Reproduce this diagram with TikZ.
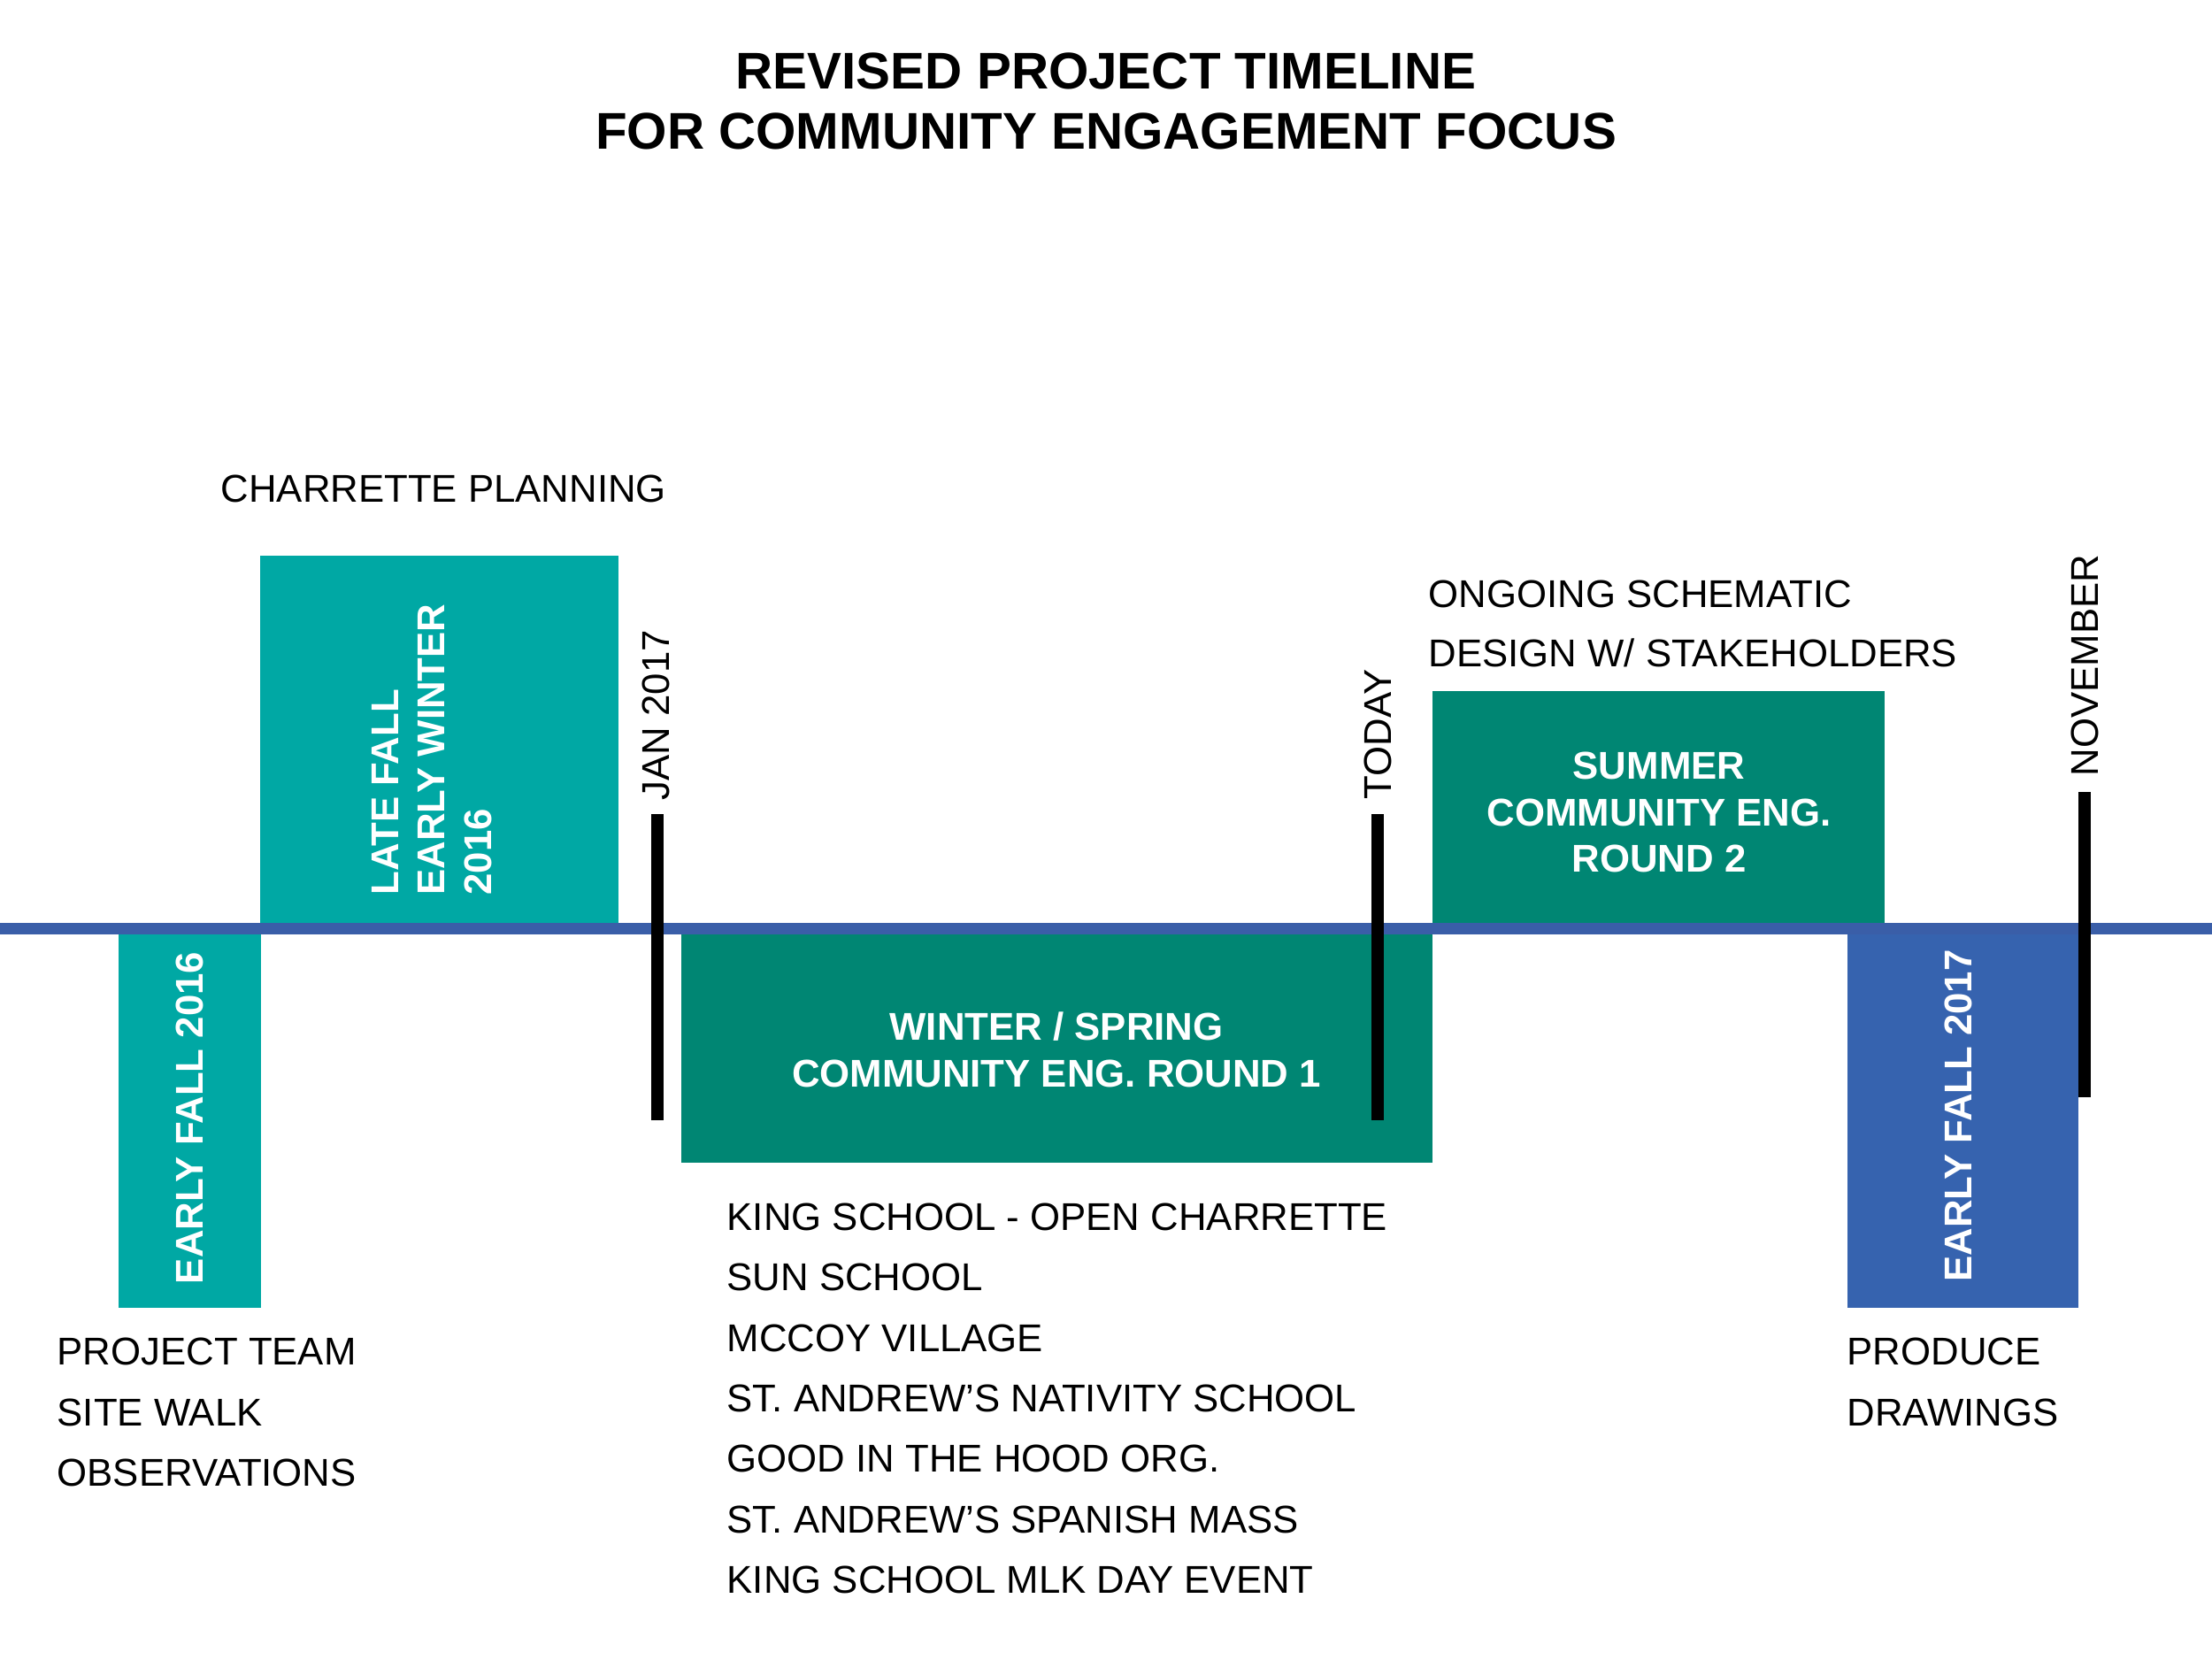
\documentclass[tikz,border=0pt]{standalone}
\usepackage{fontspec}
\setmainfont{Liberation Sans}
\definecolor{turquesa}{RGB}{0,168,164}
\definecolor{verde}{RGB}{0,134,115}
\definecolor{azul}{RGB}{54,99,175}
\definecolor{linea}{RGB}{58,94,168}

\begin{document}
\begin{tikzpicture}[
  texto/.style={inner sep=0pt, font=\fontsize{12.45}{19.4}\selectfont},
  caja/.style={inner sep=0pt, text=white, align=center, font=\fontsize{12.45}{15}\selectfont\bfseries},
  fecha/.style={texto, rotate=90, anchor=west},
  marca/.style={line width=4pt}]
  \useasboundingbox (0,0) rectangle (25,18.75);
  % el titulo
  \node[inner sep=0pt, align=center, anchor=north, font=\fontsize{16.6}{19.4}\selectfont\bfseries] (titulo) at (12.5,18.16)
    {REVISED PROJECT TIMELINE\\FOR COMMUNITY ENGAGEMENT FOCUS};
  % los bloques de cada etapa
  \fill[turquesa] (1.34,3.97) rectangle (2.95,8.26);
  \fill[turquesa] (2.94,8.26) rectangle (6.99,12.47);
  \fill[verde] (7.70,5.61) rectangle (16.19,8.26);
  \fill[verde] (16.19,8.26) rectangle (21.30,10.94);
  \fill[azul] (20.88,3.97) rectangle (23.49,8.26);
  % la linea de tiempo
  \draw[linea, line width=3.7pt] (0,8.26) -- (25,8.26);
  % textos dentro de los bloques
  \node[caja, rotate=90] (otono16) at (2.145,6.115) {EARLY FALL 2016};
  \node[caja, rotate=90, align=left] (invierno16) at (4.88,10.28) {LATE FALL\\EARLY WINTER\\2016};
  \node[caja] (ronda1) at (11.94,6.89) {WINTER / SPRING\\COMMUNITY ENG. ROUND 1};
  \node[caja] (ronda2) at (18.75,9.57) {SUMMER\\COMMUNITY ENG.\\ROUND 2};
  \node[caja, rotate=90] (otono17) at (22.13,6.14) {EARLY FALL 2017};
  % marcas de fecha
  \draw[marca] (7.43,6.09) -- (7.43,9.55);
  \draw[marca] (15.57,6.09) -- (15.57,9.55);
  \draw[marca] (23.56,6.35) -- (23.56,9.80);
  \node[fecha] (enero) at (7.41,9.70) {JAN 2017};
  \node[fecha] (hoy) at (15.57,9.71) {TODAY};
  \node[fecha] (noviembre) at (23.56,9.97) {NOVEMBER};
  % notas de cada etapa
  \node[texto, anchor=base west] (planeo) at (2.49,13.07) {CHARRETTE PLANNING};
  \foreach \nota [count=\i] in {PROJECT TEAM, SITE WALK, OBSERVATIONS}
    \node[texto, anchor=base west] (equipo\i) at (0.64,{3.325-0.685*(\i-1)}) {\nota};
  \foreach \nota [count=\i] in {KING SCHOOL - OPEN CHARRETTE, SUN SCHOOL, MCCOY VILLAGE,
      ST. ANDREW’S NATIVITY SCHOOL, GOOD IN THE HOOD ORG., ST. ANDREW’S SPANISH MASS,
      KING SCHOOL MLK DAY EVENT}
    \node[texto, anchor=base west] (evento\i) at (8.21,{4.845-0.683*(\i-1)}) {\nota};
  \foreach \nota [count=\i] in {ONGOING SCHEMATIC, DESIGN W/ STAKEHOLDERS}
    \node[texto, anchor=base west] (diseno\i) at (16.14,{11.885-0.67*(\i-1)}) {\nota};
  \foreach \nota [count=\i] in {PRODUCE, DRAWINGS}
    \node[texto, anchor=base west] (dibujos\i) at (20.87,{3.325-0.685*(\i-1)}) {\nota};
\end{tikzpicture}
\end{document}
